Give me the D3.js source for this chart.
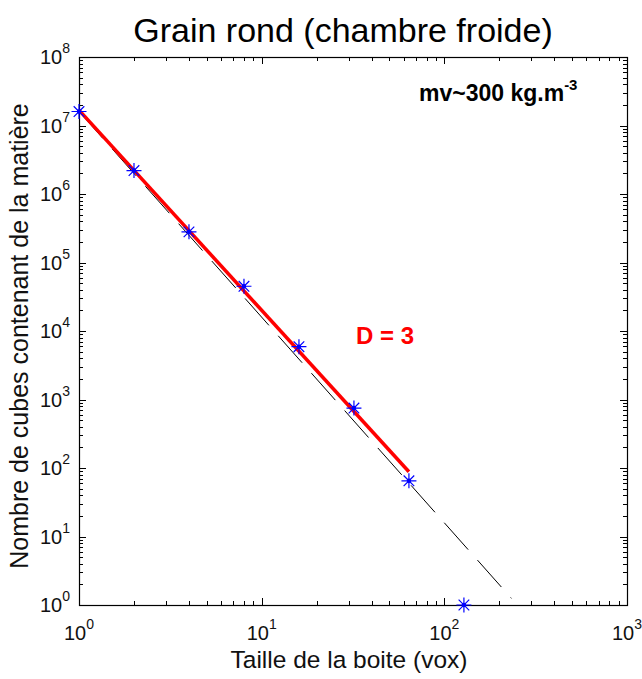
<!DOCTYPE html>
<html><head><meta charset="utf-8">
<script src="https://cdn.jsdelivr.net/npm/d3@7"></script>
<style>body{margin:0;background:#fff} text{font-family:Arial,"Liberation Sans",sans-serif}</style>
</head><body><svg id="c" width="642" height="679"></svg>
<script>
// Data
const boxSizes = [1, 2, 4, 8, 16, 32, 64, 128];
const cubeCounts = [1.6e7, 2.2e6, 2.8e5, 4.5e4, 5.9e3, 750, 65, 1];
const fitX = [1, 64];
const fitY = [1.68e7, 88];
const refX = [1, 233];
const refY = [1.6e7, 1.25];
const xTickExps = [0, 1, 2, 3];
const yTickExps = [0, 1, 2, 3, 4, 5, 6, 7, 8];
const titleText = "Grain rond (chambre froide)";
const xLabel = "Taille de la boite (vox)";
const yLabel = "Nombre de cubes contenant de la matière";

const L = 79, R = 627, T = 57, B = 605;
const svg = d3.select("#c");
const x = d3.scaleLog().domain([1, 1000]).range([L, R]);
const y = d3.scaleLog().domain([1, 1e8]).range([B, T]);

// Ticks (inside, all four sides)
const g = svg.append("g").attr("stroke", "#000").attr("stroke-width", 1);
function minorVals(lo, hi) {
  const v = [];
  for (let e = lo; e < hi; e++) for (let m = 2; m <= 9; m++) v.push(m * Math.pow(10, e));
  return v;
}
const xMaj = xTickExps.map(e => Math.pow(10, e));
const yMaj = yTickExps.map(e => Math.pow(10, e));
const xMin = minorVals(0, 3), yMin = minorVals(0, 8);
const MJ = 7, MN = 4;
xMaj.concat(xMin).forEach(v => {
  const len = xMaj.includes(v) ? MJ : MN;
  const px = Math.round(x(v)) + 0.5;
  g.append("line").attr("x1", px).attr("x2", px).attr("y1", B).attr("y2", B - len);
  g.append("line").attr("x1", px).attr("x2", px).attr("y1", T).attr("y2", T + len);
});
yMaj.concat(yMin).forEach(v => {
  const len = yMaj.includes(v) ? MJ : MN;
  const py = Math.round(y(v)) + 0.5;
  g.append("line").attr("y1", py).attr("y2", py).attr("x1", L).attr("x2", L + len);
  g.append("line").attr("y1", py).attr("y2", py).attr("x1", R).attr("x2", R - len);
});
svg.append("rect").attr("x", L + 0.5).attr("y", T + 0.5).attr("width", R - L).attr("height", B - T)
  .attr("fill", "none").attr("stroke", "#000").attr("stroke-width", 1.2);

// Tick labels
xTickExps.forEach(e => {
  const t = svg.append("text").attr("x", x(Math.pow(10, e))).attr("y", 640)
    .attr("text-anchor", "middle").attr("font-size", 20).attr("fill", "#111");
  t.append("tspan").text("10");
  t.append("tspan").attr("dy", -11).attr("font-size", 14).text(e);
});
yTickExps.forEach(e => {
  const t = svg.append("text").attr("x", 70).attr("y", y(Math.pow(10, e)) + 7)
    .attr("text-anchor", "end").attr("font-size", 20).attr("fill", "#111");
  t.append("tspan").text("10");
  t.append("tspan").attr("dy", -11).attr("font-size", 14).text(e);
});

// Reference dashed line (slope -3)
const line = d3.line().x(d => x(d[0])).y(d => y(d[1]));
svg.append("path").datum(d3.zip(refX, refY)).attr("d", line)
  .attr("fill", "none").attr("stroke", "#000").attr("stroke-width", 1)
  .attr("stroke-dasharray", "36,14");
// Fit line
svg.append("path").datum(d3.zip(fitX, fitY)).attr("d", line)
  .attr("fill", "none").attr("stroke", "#ff0000").attr("stroke-width", 3.5);

// Star markers
const stars = svg.append("g").selectAll("g").data(d3.zip(boxSizes, cubeCounts)).join("g")
  .attr("transform", d => `translate(${x(d[0])},${y(d[1])})`);
stars.append("path").attr("d", "M-7.5,0H7.5M0,-7.5V7.5M-5.3,-5.3L5.3,5.3M-5.3,5.3L5.3,-5.3")
  .attr("stroke", "#0000ff").attr("stroke-width", 1.2).attr("fill", "none");
stars.append("circle").attr("r", 2.2).attr("fill", "#0000ff");

// Texts
svg.append("text").attr("x", 343).attr("y", 42).attr("text-anchor", "middle")
  .attr("font-size", 34).attr("fill", "#000").text(titleText);
svg.append("text").attr("x", 349).attr("y", 668).attr("text-anchor", "middle")
  .attr("font-size", 24.5).attr("fill", "#111").text(xLabel);
svg.append("text").attr("transform", "translate(28,336) rotate(-90)").attr("text-anchor", "middle")
  .attr("font-size", 25).attr("fill", "#111").text(yLabel);
const mv = svg.append("text").attr("x", 419).attr("y", 101).attr("font-size", 23)
  .attr("font-weight", "bold").attr("fill", "#000");
mv.append("tspan").text("mv~300 kg.m");
mv.append("tspan").attr("dy", -11).attr("font-size", 15).text("-3");
svg.append("text").attr("x", 356).attr("y", 344).attr("font-size", 24)
  .attr("font-weight", "bold").attr("fill", "#ff0000").text("D = 3");
</script></body></html>
